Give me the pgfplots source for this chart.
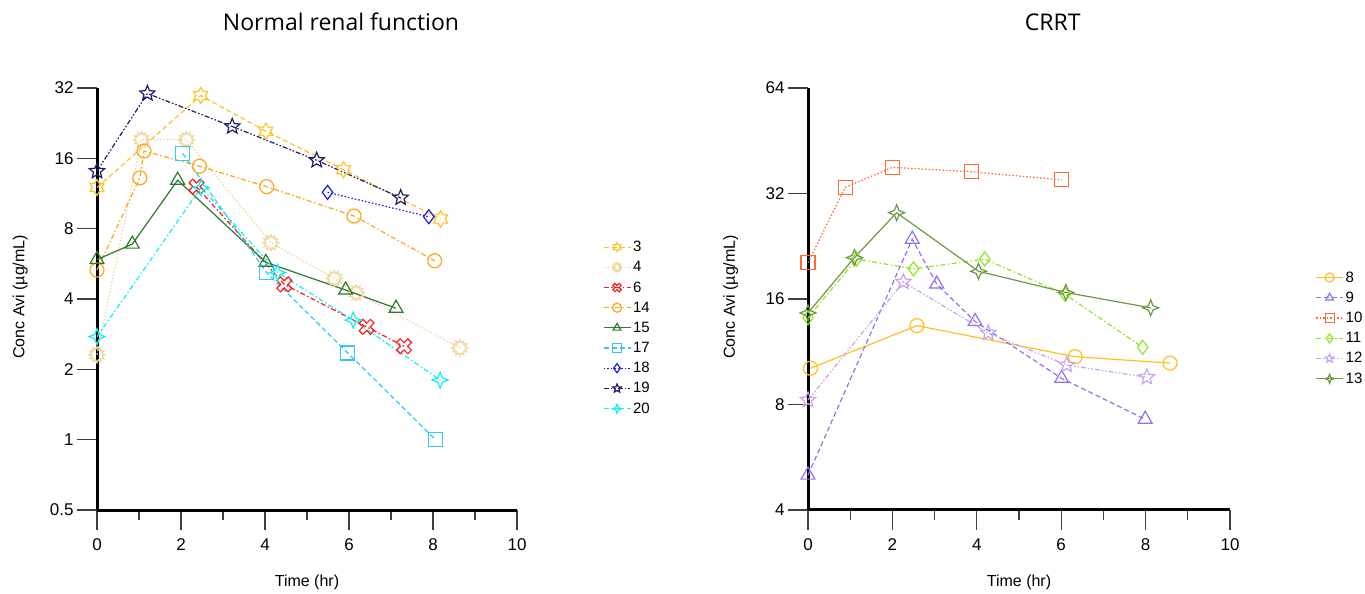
\documentclass[border=0pt]{standalone}
\usepackage{pgfplots}
\pgfplotsset{compat=1.18}
\usepackage{fontspec}
\setmainfont{Liberation Sans}
\newfontfamily\titlef{Open Sans}

\definecolor{c3}{HTML}{FFC125}
\definecolor{c4}{HTML}{F0D59A}
\definecolor{c6}{HTML}{FF1A1A}
\definecolor{c14}{HTML}{FFA319}
\definecolor{c15}{HTML}{2D7A2D}
\definecolor{c17}{HTML}{33C8F5}
\definecolor{c18}{HTML}{1A1AE6}
\definecolor{c19}{HTML}{1C1C6E}
\definecolor{c20}{HTML}{10F0F0}
\definecolor{r8}{HTML}{FFBF1F}
\definecolor{r9}{HTML}{9370F0}
\definecolor{r10}{HTML}{FF6A33}
\definecolor{r11}{HTML}{8FE81E}
\definecolor{r12}{HTML}{C8A2F0}
\definecolor{r13}{HTML}{6B9A45}

\newcommand{\starmark}[3]{%
  \pgfpathmoveto{\pgfpointpolar{#3}{\pgfplotmarksize}}%
  \pgfmathtruncatemacro\nnpts{2*#1-1}%
  \foreach \k in {1,...,\nnpts}{%
    \pgfmathsetmacro\ang{#3+180/#1*\k}%
    \pgfmathsetmacro\rr{isodd(\k)?#2:1}%
    \pgfpathlineto{\pgfpointpolar{\ang}{\rr*\pgfplotmarksize}}%
  }%
  \pgfpathclose\pgfusepathqstroke}
\pgfdeclareplotmark{ostar5}{\starmark{5}{0.45}{90}}
\pgfdeclareplotmark{ostar6}{\starmark{6}{0.6}{90}}
\pgfdeclareplotmark{sunburst}{\starmark{12}{0.65}{90}}
\pgfdeclareplotmark{ostar4}{\starmark{4}{0.4}{90}}
\pgfdeclareplotmark{xcross}{%
  \pgftransformrotate{45}%
  \def\mka{0.32*\pgfplotmarksize}\def\mkb{\pgfplotmarksize}%
  \pgfpathmoveto{\pgfpoint{\mka}{\mkb}}%
  \pgfpathlineto{\pgfpoint{\mka}{\mka}}%
  \pgfpathlineto{\pgfpoint{\mkb}{\mka}}%
  \pgfpathlineto{\pgfpoint{\mkb}{-\mka}}%
  \pgfpathlineto{\pgfpoint{\mka}{-\mka}}%
  \pgfpathlineto{\pgfpoint{\mka}{-\mkb}}%
  \pgfpathlineto{\pgfpoint{-\mka}{-\mkb}}%
  \pgfpathlineto{\pgfpoint{-\mka}{-\mka}}%
  \pgfpathlineto{\pgfpoint{-\mkb}{-\mka}}%
  \pgfpathlineto{\pgfpoint{-\mkb}{\mka}}%
  \pgfpathlineto{\pgfpoint{-\mka}{\mka}}%
  \pgfpathlineto{\pgfpoint{-\mka}{\mkb}}%
  \pgfpathclose\pgfusepathqstroke}

\tikzset{
  ldashed/.style={dash pattern=on 5pt off 3pt},
  ldotted/.style={dash pattern=on 1.5pt off 2pt},
  ldashdot/.style={dash pattern=on 5pt off 2.5pt on 1.5pt off 2.5pt},
  ldashdotdot/.style={dash pattern=on 5pt off 2pt on 1.5pt off 2pt on 1.5pt off 2pt},
  ser/.style={line width=1.2pt, mark options={solid}, mark size=7pt},
}
\pgfplotsset{
  every axis plot post/.append style={legend image code/.code={\draw[mark repeat=2,mark phase=2,##1,mark size=4.5pt] plot coordinates {(0pt,0pt) (13.5pt,0pt) (27pt,0pt)};}},
  myaxisbase/.style={
    scale only axis, clip=false,
    axis lines*=left,
    axis line style={line width=3pt, -, black},
    xmin=0, xmax=10, xtick={0,2,...,10}, minor x tick num=1,
    yminorticks=false,
    tick align=outside,
    major tick length=20pt, minor tick length=10pt,
    every tick/.style={black!75, line width=1.2pt},
    tick label style={font=\fontsize{17}{19}\selectfont, text=black},
    xticklabel style={yshift=-5pt},
    /pgf/number format/assume math mode=true,
    xlabel={Time (hr)}, ylabel={Conc Avi (µg/mL)},
    label style={font=\fontsize{16}{18}\selectfont},
    xlabel style={at={(axis description cs:0.5,-0.171)}, anchor=center},
    ylabel style={at={(axis description cs:-0.183,0.505)}, anchor=center},
    legend cell align=left,
    legend style={draw=none, fill=none, anchor=north west,
      font=\fontsize{15}{17}\selectfont, row sep=4.3pt},
  }
}

\begin{document}
\begin{tikzpicture}
\path[use as bounding box] (0,0) rectangle (1365pt,594pt);
\begin{axis}[myaxisbase, ymode=log, log basis y=2, at={(97pt,84pt)}, anchor=south west,
  width=420pt, height=422pt,
  ymin=0.5, ymax=32, ytick={0.5,1,2,4,8,16,32}, yticklabels={0.5,1,2,4,8,16,32},
  legend style={at={(axis description cs:1.197,0.647)}}]
\addplot[ser, c3, ldashed, mark=ostar6, mark size=8pt] coordinates {(0,12) (2.47,29.7) (4.02,20.9) (5.87,14.3) (8.18,8.8)};
\addlegendentry{3}
\addplot[ser, c4, ldotted, mark=sunburst, mark size=8pt] coordinates {(0,2.31) (1.06,19.2) (2.13,19.2) (4.14,6.96) (5.65,4.9) (6.17,4.25) (8.64,2.47)};
\addlegendentry{4}
\addplot[ser, c6, ldashdot, mark=xcross, mark size=8pt] coordinates {(2.37,12.1) (4.46,4.62) (6.42,3.04) (7.31,2.51)};
\addlegendentry{6}
\addplot[ser, c14, ldashdot, mark=o] coordinates {(0,5.32) (1.02,13.2) (1.12,17.2) (2.44,14.8) (4.04,12.1) (6.12,9.06) (8.04,5.83)};
\addlegendentry{14}
\addplot[ser, c15, mark=triangle, mark size=8pt] coordinates {(0,5.9) (0.84,6.87) (1.92,12.9) (4.02,5.74) (5.92,4.37) (7.12,3.65)};
\addlegendentry{15}
\addplot[ser, c17, ldashed, mark=square] coordinates {(2.04,16.8) (4.04,5.18) (5.97,2.35) (8.06,1.0)};
\addlegendentry{17}
\addplot[ser, c18, ldotted, mark=diamond] coordinates {(5.49,11.44) (7.9,9.0)};
\addlegendentry{18}
\addplot[ser, c19, ldashdotdot, mark=ostar5, mark size=8pt] coordinates {(0,14.1) (1.2,30.3) (3.22,21.9) (5.23,15.7) (7.23,10.85)};
\addlegendentry{19}
\addplot[ser, c20, ldashdot, mark=ostar4, mark size=8pt] coordinates {(0,2.76) (2.48,12) (4.3,5.19) (6.1,3.25) (8.17,1.8)};
\addlegendentry{20}
\node[font=\titlef\fontsize{23}{26}\selectfont] at (axis description cs:0.581,1.156) {Normal renal function};
\end{axis}

\begin{axis}[myaxisbase, ymode=log, log basis y=2, at={(808pt,84pt)}, anchor=south west,
  width=422pt, height=422pt,
  ymin=4, ymax=64, ytick={4,8,16,32,64}, yticklabels={4,8,16,32,64},
  legend style={at={(axis description cs:1.195,0.575)}}]
\addplot[ser, r8, mark=o] coordinates {(0.06,10.15) (2.58,13.43) (6.33,10.95) (8.58,10.5)};
\addlegendentry{8}
\addplot[ser, r9, ldashed, mark=triangle, mark size=8pt] coordinates {(0,5.03) (2.47,23.7) (3.05,17.65) (3.96,13.8) (6.01,9.5) (7.99,7.26)};
\addlegendentry{9}
\addplot[ser, r10, ldotted, mark=square] coordinates {(0,20.3) (0.88,33.3) (2.0,38) (3.88,36.9) (6.01,35.0)};
\addlegendentry{10}
\addplot[ser, r11, ldashdot, mark=diamond] coordinates {(0,14.15) (1.15,20.8) (2.5,19.5) (4.19,20.8) (6.09,16.5) (7.93,11.65)};
\addlegendentry{11}
\addplot[ser, r12, ldashdotdot, mark=ostar5, mark size=8pt] coordinates {(0,8.24) (2.26,17.9) (4.27,12.8) (6.13,10.37) (8.03,9.57)};
\addlegendentry{12}
\addplot[ser, r13, mark=ostar4, mark size=8pt] coordinates {(0,14.6) (1.1,21.0) (2.1,28.2) (4.04,19.2) (6.11,16.7) (8.12,15.1)};
\addlegendentry{13}
\node[font=\titlef\fontsize{23}{26}\selectfont] at (axis description cs:0.58,1.156) {CRRT};
\end{axis}
\end{tikzpicture}
\end{document}
